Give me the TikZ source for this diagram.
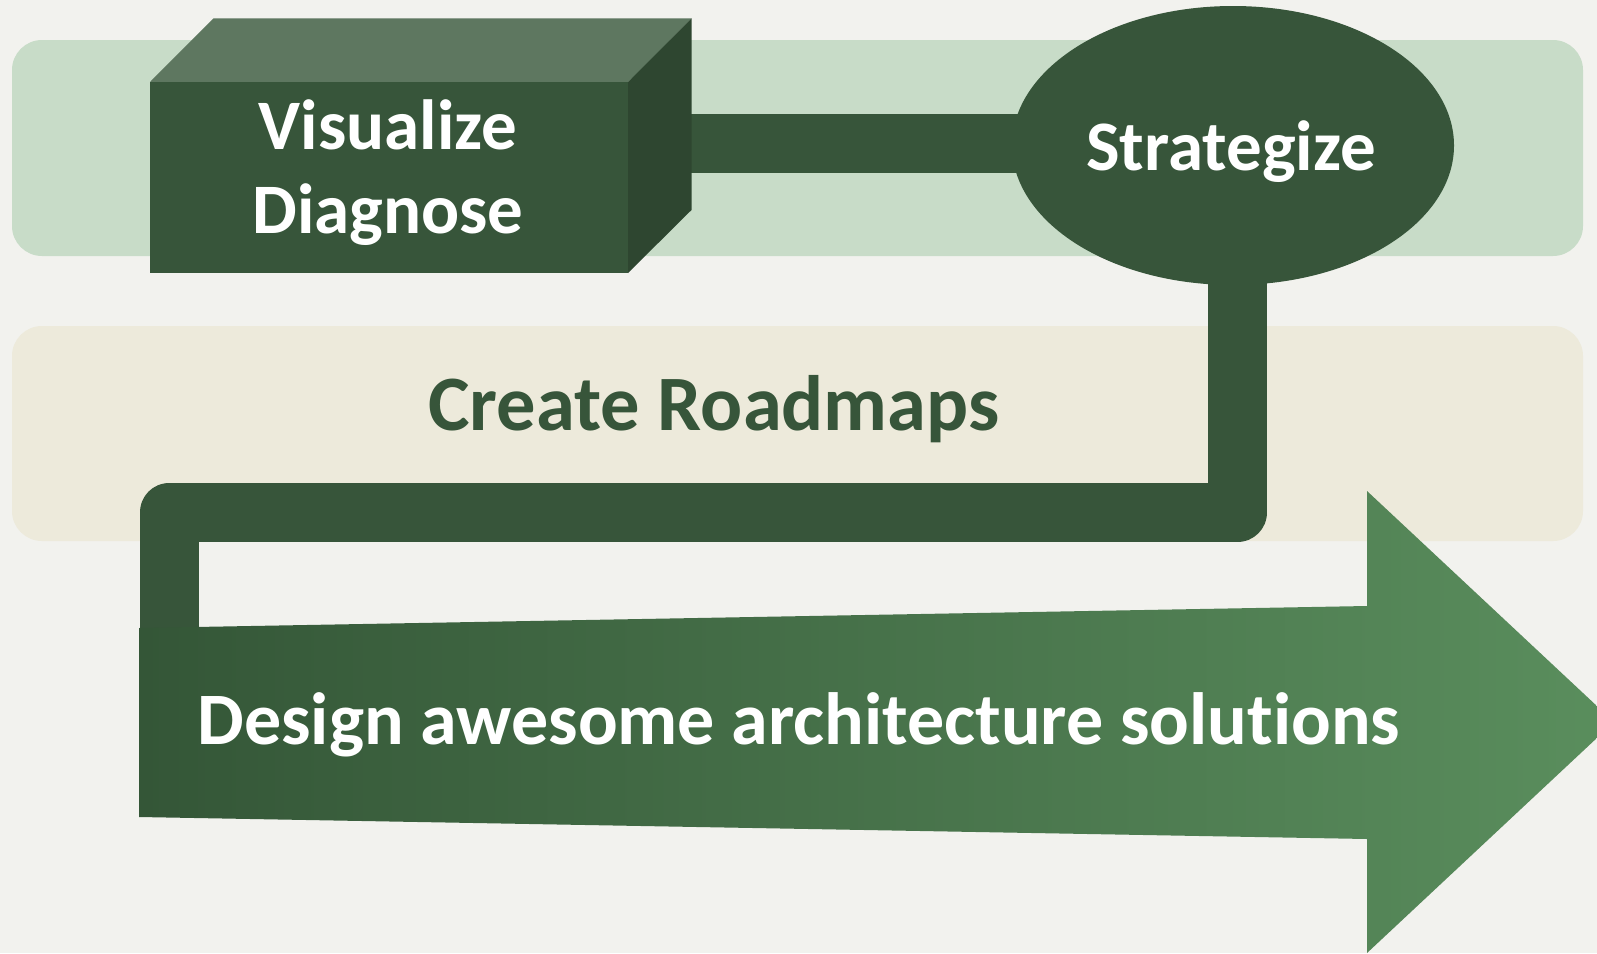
\documentclass[tikz,border=0pt]{standalone}
\usepackage{fontspec}
\setmainfont{Carlito}[Ligatures=NoCommon]
\usetikzlibrary{shapes.geometric}
\definecolor{bg}{HTML}{F2F2EE}
\definecolor{bandg}{HTML}{C8DCC8}
\definecolor{bandb}{HTML}{EDEADB}
\definecolor{dg}{HTML}{37553A}
\definecolor{topf}{HTML}{5E7760}
\definecolor{sidef}{HTML}{2E4630}
\definecolor{arL}{HTML}{345637}
\definecolor{arR}{HTML}{5A8E5D}
\begin{document}
\begin{tikzpicture}[x=1pt,y=-1pt,
  lbl/.style={font=\fontsize{71}{84}\selectfont\bfseries, text=white, inner sep=0pt},
  conn/.style={draw=dg, line width=59pt, line join=round}]
\useasboundingbox (0,0) rectangle (1597,953);
\clip (0,0) rectangle (1597,953);
\fill[bg] (0,0) rectangle (1597,953);
% bands
\fill[bandg, rounded corners=30pt] (12,40) rectangle (1583,256);
\fill[bandb, rounded corners=30pt] (12,326) rectangle (1583,541);
% node positions
\coordinate (vdc) at (389,177.5);
\coordinate (stc) at (1233,145.5);
% connectors (behind shapes)
\coordinate (k1) at (1237.5,512.5);
\coordinate (k2) at (169,512.5);
\coordinate (k3) at (169,680);
\draw[conn] (vdc |- 0,143) -- (stc |- 0,143);
\draw[conn] (stc -| k1) -- (k1) -- (k2) -- (k3);
% arrow
\shade[left color=arL, right color=arR] (139,628) -- (1367,606) -- (1367,491) -- (1614,722) -- (1367,953) -- (1367,839) -- (139,817) -- cycle;
\node[lbl, font=\fontsize{74}{84}\selectfont\bfseries, anchor=base] (ds) at (799,744) {Design awesome architecture solutions};
% create roadmaps
\node[lbl, font=\fontsize{78.5}{90}\selectfont\bfseries, text=dg, anchor=base] (cr) at (714,430) {Create Roadmaps};
% cube
\fill[topf] (150,82) -- (213.5,18.3) -- (691.5,18.3) -- (628,82) -- cycle;
\fill[sidef] (628,82) -- (691.5,18.3) -- (691.5,210) -- (628,273) -- cycle;
\node[fill=dg, minimum width=478pt, minimum height=191pt, inner sep=0pt] (vd) at (vdc) {};
\node[lbl, anchor=base] (vd1) at (388,149) {Visualize};
\node[lbl, anchor=base] (vd2) at (388,233) {Diagnose};
% ellipse
\node[ellipse, fill=dg, minimum width=442pt, minimum height=279pt, inner sep=0pt] (st) at (stc) {};
\node[lbl, anchor=base] (stt) at (1231,170) {Strategize};
\end{tikzpicture}
\end{document}
